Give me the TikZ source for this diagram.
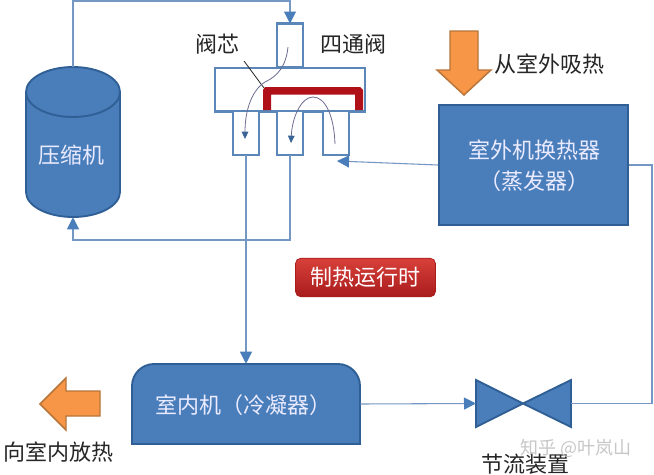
\documentclass[tikz,border=0pt]{standalone}
\usepackage{fontspec}
\setmainfont{Noto Sans CJK SC}
\usetikzlibrary{arrows.meta,calc}
\definecolor{bfill}{HTML}{4A7EBB}
\definecolor{bedge}{HTML}{2F5F94}
\definecolor{pedge}{HTML}{5B87B8}
\definecolor{wire}{HTML}{7497C4}
\definecolor{ofill}{HTML}{F79646}
\definecolor{oedge}{HTML}{B8743A}
\definecolor{core}{HTML}{B01018}
\definecolor{btop}{HTML}{D8403A}
\definecolor{bbot}{HTML}{A81C1C}
\tikzset{
 x=0.75pt,y=-0.75pt,
 solid box/.style={fill=bfill,draw=bedge,line width=1.4pt},
 port/.style={draw=pedge,fill=white,line width=2pt,inner sep=0pt,outer sep=0pt},
 wirel/.style={draw=wire,line width=0.8pt},
 tip/.style={-{Triangle[length=9pt,width=9pt,fill=bfill,color=bfill]}},
 flow/.style={draw=gray!85!blue,line width=0.6pt,-{Triangle[length=5.5pt,width=5pt,fill=bfill!80!black,color=bfill!80!black]}},
 lab/.style={inner sep=0pt,font=\fontsize{16.5pt}{18pt}\selectfont,text=black!85},
 wlab/.style={lab,text=white!92!blue},
 heat/.style={fill=ofill,draw=oedge,line width=1.1pt},
}
\begin{document}
\begin{tikzpicture}
\useasboundingbox (0,0) rectangle (654,475);
\fill[white] (0,0) rectangle (654,475);

% compressor
\draw[solid box] (26,92) arc[x radius=47,y radius=25,start angle=180,end angle=360] -- (120,192)
  arc[x radius=47,y radius=25,start angle=0,end angle=180] -- cycle;
\draw[bedge,line width=1.4pt] (26,92) arc[x radius=47,y radius=25,start angle=180,end angle=0];
\node[inner sep=0pt,minimum width=70.5pt,minimum height=112.5pt] (comp) at (73,142) {};
\node[wlab] (complab) at (71,155) {压缩机};

% four-way valve
\node[port,minimum width=19.5pt,minimum height=33pt] (pin) at (290,45.5) {};
\node[port,minimum width=112.5pt,minimum height=32.5pt] (body) at (290,89.5) {};
\node[port,minimum width=19.5pt,minimum height=33pt] (pa) at (246,133) {};
\node[port,minimum width=19.5pt,minimum height=33pt] (pb) at (290,133) {};
\node[port,minimum width=19.5pt,minimum height=33pt] (pc) at (336,133) {};
\fill[core] (263,110) -- (263,90) -- (265,87) -- (360,87) -- (363,90) -- (363,110) -- (355,110) -- (355,94.5) -- (271,94.5) -- (271,110) -- cycle;
\coordinate (coretip) at (264,88);
\coordinate (leadend) at (244,61);
\draw[black!85,line width=0.6pt] (leadend) -- (coretip);
\draw[flow] (288,47) .. controls (286,66) and (278,76) .. (265,82) .. controls (252,90) and (245,110) .. (245,139);
\draw[flow] (335,144) .. controls (334,115) and (325,97) .. (313,97) .. controls (301,97) and (292,118) .. (291,143);
\node[lab] (lcore) at (217,44) {阀芯};
\node[lab] (lvalve) at (353,44) {四通阀};

% outdoor unit
\node[solid box,minimum width=142pt,minimum height=90pt,inner sep=0pt] (out) at (533.5,165) {};
\node[wlab] (o1) at (534,150) {室外机换热器};
\node[wlab] (o2) at (534,181) {（蒸发器）};

% indoor unit
\draw[solid box] (132,444) -- (132,386) arc[radius=22,start angle=180,end angle=270] -- (338,364) arc[radius=22,start angle=270,end angle=360] -- (360,444) -- cycle;
\node[inner sep=0pt,minimum width=171pt,minimum height=60pt] (indoor) at (246,404) {};
\node[wlab] (ilab) at (243,405) {室内机（冷凝器）};

% throttle
\draw[solid box,line join=miter] (476,380) -- (476,427) -- (523,403.5) -- (571,427) -- (571,380) -- (523,403.5) -- cycle;
\coordinate (thl) at (476,403.5);
\coordinate (thr) at (571,403.5);
\node[lab] (lth) at (525,464) {节流装置};

% connectors
\coordinate (c1) at (73,1);
\coordinate (c2) at (290,1);
\coordinate (c3) at (73,240);
\coordinate (c4) at (290,240);
\coordinate (c5) at (652,165);
\coordinate (c6) at (652,403.5);
\draw[wirel,tip] (comp.north) -- (c1) -- (c2) -- (pin.north);
\draw[wirel,tip] (pb.south) -- (c4) -- (c3) -- (comp.south);
\draw[wirel,tip] (pa.south) -- (pa.south |- indoor.north);
\draw[wirel,tip] (out.west) -- ($(pc.south east)+(-12,6)$);
\draw[wirel] (out.east) -- (c5) -- (c6) -- (thr);
\draw[wirel,tip] (indoor.east) -- (thl);

% orange arrows
\draw[heat] (450,31) -- (478,31) -- (478,70) -- (491,70) -- (464,95) -- (437,70) -- (450,70) -- cycle;
\draw[heat] (100,391) -- (100,416) -- (66,416) -- (66,430) -- (40,404) -- (66,378) -- (66,391) -- cycle;
\node[lab,anchor=west] (lout) at (494,64) {从室外吸热};
\node[lab] (lin) at (58,452) {向室内放热};

% status label
\node[rounded corners=4pt,minimum width=105pt,minimum height=29pt,inner sep=0pt,
  top color=btop,bottom color=bbot,draw=bbot,line width=0.5pt,
  text=white,font=\fontsize{16.5pt}{18pt}\selectfont] (state) at (365.5,277.5) {制热运行时};

% watermark
\node[inner sep=0pt,text=black!22,font=\fontsize{13.5pt}{15pt}\selectfont] (mark) at (576,448) {知乎 @叶岚山};
\end{tikzpicture}
\end{document}
